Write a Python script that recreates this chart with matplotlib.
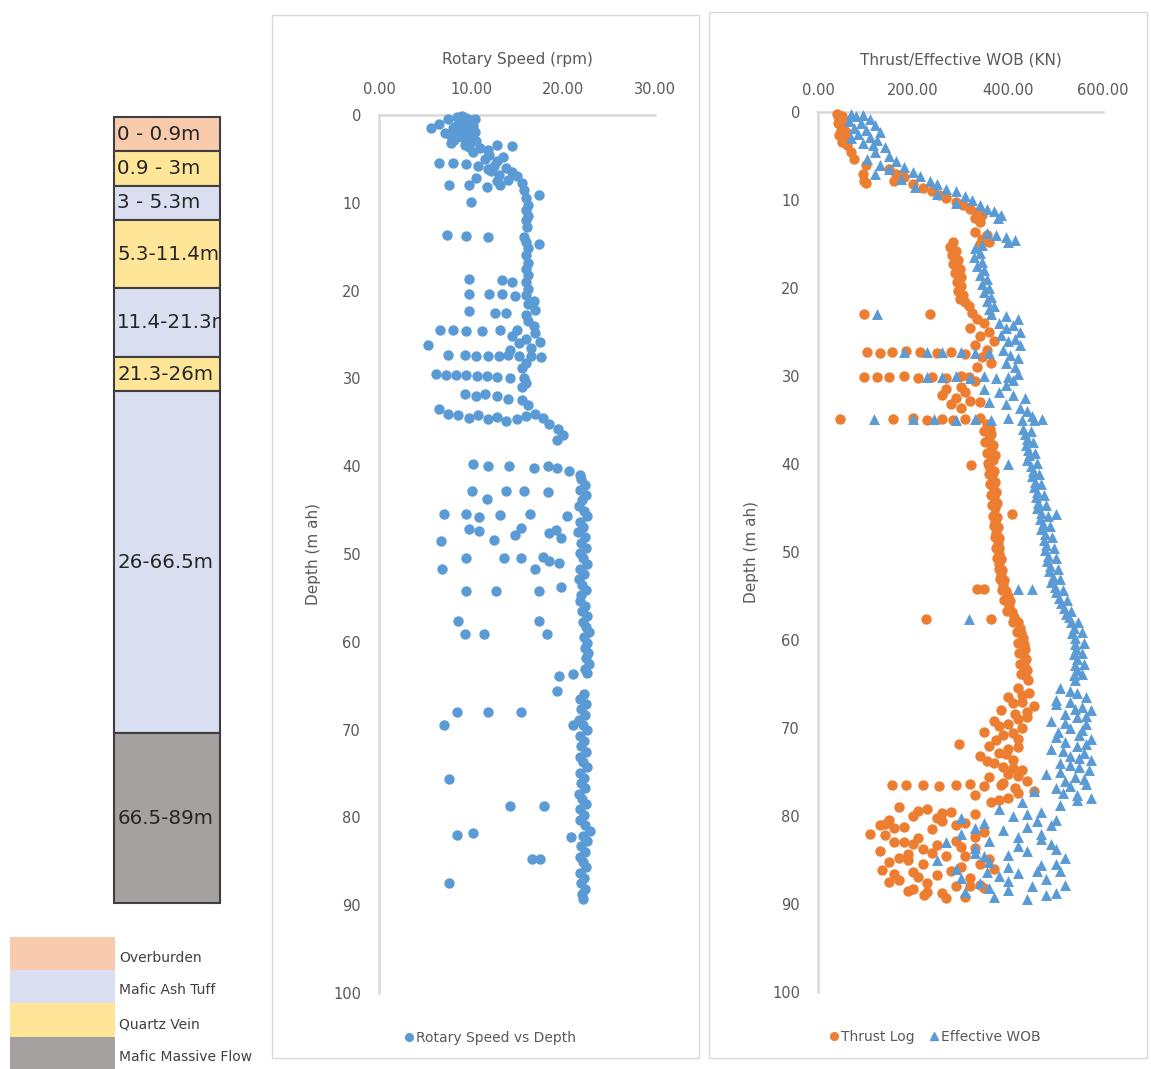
import matplotlib.pyplot as plt
from matplotlib.patches import Rectangle
from matplotlib.lines import Line2D

# rock column (schematic log)
layer_labels = ['0 - 0.9m', '0.9 - 3m', '3 - 5.3m', '5.3-11.4m',
                '11.4-21.3m', '21.3-26m', '26-66.5m', '66.5-89m']
layer_rock = ['Overburden', 'Quartz Vein', 'Mafic Ash Tuff', 'Quartz Vein',
              'Mafic Ash Tuff', 'Quartz Vein', 'Mafic Ash Tuff', 'Mafic Massive Flow']
rock_types = ['Overburden', 'Mafic Ash Tuff', 'Quartz Vein', 'Mafic Massive Flow']

# rotary speed log
rs_depth = [
    0.2, 0.3, 0.5, 0.6, 0.8, 1.0, 1.0, 1.2, 1.5, 1.5, 1.7, 2.0, 2.0, 2.2, 2.5, 2.8, 3.0, 3.2, 3.4, 3.4, 3.5, 3.8, 0.1, 0.4,
    0.7, 1.3, 1.9, 2.4, 2.7, 3.6, 4.0, 5.2, 6.4, 7.4,
    4.2, 4.5, 4.8, 5.0, 5.5, 5.5, 5.6, 5.8, 5.8, 6.0, 6.2, 6.5, 6.8, 7.0, 7.2, 7.5, 7.8, 8.0, 8.0, 8.2, 8.0, 8.5,
    9.1, 9.5, 9.9, 10.2, 10.8, 11.5, 12.0, 12.8, 13.7, 13.8, 13.9, 13.9, 14.7, 14.5, 15.2, 16.0, 16.8, 17.5, 18.2,
    18.7, 18.8, 19.0, 19.0, 19.8, 20.4, 20.4, 20.4, 20.6, 20.5, 21.2, 21.5, 22.3, 22.5, 22.5, 22.2, 22.8, 23.5, 24.0,
    24.5, 24.5, 24.6, 24.6, 24.5, 24.5, 24.8, 25.2, 25.5, 25.8, 26.0, 26.2, 26.5, 26.8, 27.3, 27.3, 27.4, 27.4, 27.4, 27.3, 27.5, 27.4, 27.6, 28.2, 28.8,
    29.5, 29.6, 29.6, 29.6, 29.7, 29.7, 29.8, 29.9, 30.0, 30.5, 31.0,
    31.8, 32.0, 31.8, 32.0, 32.3, 32.5, 33.0, 33.5, 34.0, 34.2, 34.5, 34.2, 34.6, 34.4, 34.8, 34.6, 34.3, 34.0, 34.5, 35.2, 35.8, 36.5, 37.0,
    39.8, 40.0, 40.0, 40.2, 40.0, 40.2, 40.5, 41.0,
    42.8, 42.8, 42.8, 42.9, 43.7, 45.5, 45.5, 45.8, 45.6, 45.5, 45.7, 47.2, 47.4, 47.0, 47.8, 48.5, 48.4, 47.6, 47.3, 48.2,
    50.5, 50.5, 50.5, 50.3, 50.8, 51.7, 51.0, 51.7, 54.2, 54.2, 54.2, 53.8, 57.6, 57.6, 59.1, 59.1, 59.1, 63.9, 63.7, 65.6,
    68.0, 68.0, 68.0, 69.5, 69.5, 75.6, 78.7, 78.7, 82.0, 81.8, 82.2, 84.7, 84.7, 87.5,
    41.5, 42.1, 42.7, 43.3, 43.9, 44.5, 45.1, 45.7, 46.3, 46.9, 47.5, 48.1, 48.7, 49.3, 49.9, 50.5, 51.1, 51.7, 52.3,
    52.9, 53.5, 54.1, 54.7, 55.3, 55.9, 56.5, 57.1, 57.7, 58.3, 58.9, 59.5, 60.1, 60.7, 61.3, 61.9, 62.5, 63.1, 63.5,
    65.9, 66.5, 67.1, 67.7, 68.3, 68.9, 69.5, 70.1, 70.7, 71.3, 71.9, 72.5, 73.1, 73.7, 74.3, 74.9, 75.5, 76.1, 76.7, 77.3,
    77.9, 78.5, 79.1, 79.7, 80.3, 80.9, 81.5, 82.1, 82.7, 83.3, 83.9, 84.5, 85.1, 85.7, 86.3, 86.9, 87.5, 88.1, 88.7, 89.3,
]
rs_rpm = [
    8.5, 9.5, 7.5, 10.0, 8.8, 6.5, 9.2, 10.2, 5.7, 8.0, 9.5, 7.2, 8.8, 10.0, 9.0, 8.2, 10.5, 7.8, 9.3, 12.8, 14.5, 11.0, 9.0, 10.4,
    9.8, 8.4, 10.4, 7.8, 9.6, 9.8, 11.8, 12.8, 12.2, 14.0,
    10.2, 12.0, 13.5, 11.5, 6.5, 8.0, 9.5, 10.8, 12.5, 13.8, 11.8, 14.5, 13.0, 15.0, 10.5, 12.8, 15.5, 7.6, 9.8, 11.7, 13.1, 15.8,
    17.4, 16.0, 10.0, 16.2, 16.0, 16.2, 16.0, 16.1, 7.4, 9.5, 11.8, 15.8, 17.4, 16.0, 16.2, 16.0, 16.2, 16.0, 16.2,
    9.8, 13.4, 14.5, 16.0, 16.2, 9.8, 12.0, 13.4, 14.8, 16.0, 16.8, 16.2, 9.8, 12.6, 13.8, 17.0, 16.0, 16.2, 16.8,
    6.6, 8.0, 9.5, 11.2, 13.2, 15.0, 17.0, 14.5, 16.0, 17.5, 15.2, 5.3, 16.5, 14.2, 7.5, 9.3, 10.5, 11.8, 13.0, 14.0, 15.2, 16.5, 17.6, 16.0, 15.5,
    6.2, 7.3, 8.4, 9.5, 10.6, 11.7, 12.8, 14.2, 15.8, 16.0, 15.5,
    9.3, 10.5, 11.5, 12.8, 14.0, 15.5, 16.2, 6.5, 7.5, 8.6, 9.8, 10.8, 11.8, 12.8, 13.8, 15.0, 16.0, 17.0, 17.8, 18.5, 19.5, 20.0, 19.3,
    10.2, 11.9, 14.1, 16.9, 18.4, 19.4, 20.7, 21.8,
    10.1, 13.8, 15.8, 18.4, 11.7, 7.1, 9.5, 10.9, 13.1, 16.4, 20.4, 9.8, 10.9, 15.4, 14.8, 6.7, 12.5, 18.5, 19.2, 19.8,
    9.5, 13.6, 15.4, 17.8, 18.5, 17.0, 19.6, 6.9, 9.5, 12.7, 17.4, 19.8, 8.6, 17.4, 9.3, 11.4, 18.3, 19.6, 21.1, 19.4,
    8.5, 11.8, 15.4, 7.1, 21.1, 7.6, 14.2, 17.9, 8.5, 10.2, 20.9, 16.6, 17.5, 7.6,
    22.0, 22.4, 21.8, 22.5, 22.1, 21.7, 22.3, 22.6, 21.9, 22.2, 21.6, 22.4, 22.0, 22.5, 21.8, 22.2, 22.6, 21.9, 22.3,
    21.7, 22.1, 22.5, 22.0, 21.8, 22.4, 22.1, 22.6, 22.2, 22.5, 22.8, 22.3, 22.6, 22.4, 22.7, 22.5, 22.8, 22.4, 22.6,
    22.3, 21.8, 22.5, 22.0, 22.4, 21.7, 22.2, 22.6, 21.9, 22.3, 22.0, 22.5, 21.8, 22.2, 22.6, 21.9, 22.3, 22.0, 22.4, 21.7,
    22.1, 22.5, 21.9, 22.3, 21.8, 22.4, 22.9, 22.2, 22.6, 22.0, 22.4, 21.8, 22.2, 22.5, 21.9, 22.3, 22.0, 22.4, 22.1, 22.2,
]

# thrust log (kN)
thr_depth = [
    0.2, 0.5, 0.8, 1.0, 1.3, 1.6, 2.0, 2.3, 2.6, 3.0, 3.4, 3.8, 4.5, 5.3, 6.0, 7.0, 7.8, 8.1,
    6.5, 7.0, 7.4, 7.8, 8.2, 8.6, 9.0, 9.4, 9.8, 10.2, 10.6, 11.0, 11.4, 11.7, 12.0, 12.5,
    13.6, 14.0, 14.4, 14.8, 15.0, 14.8, 15.3, 15.8, 16.3, 16.8, 17.3, 17.8, 18.3, 18.8, 19.3, 19.8, 20.3, 20.8, 21.3, 21.6, 22.0,
    23.0, 23.0, 22.8, 23.5, 24.0, 24.5, 25.0, 25.5, 26.0, 26.5, 27.0, 27.8, 28.5, 29.0, 27.3, 27.4, 27.3, 27.2, 27.3, 27.4, 27.3, 27.5,
    30.1, 30.1, 30.1, 30.0, 30.2, 30.1, 30.2, 30.0, 30.1, 30.6, 31.2, 31.5, 31.8, 32.2, 32.5, 32.8, 33.2, 33.6, 33.0,
    34.9, 34.9, 34.8, 35.0, 34.9, 35.0, 34.9, 34.8,
    35.5, 36.0, 36.6, 37.2, 37.8, 38.4, 39.0, 39.6, 40.1, 40.2, 40.8, 41.4, 42.0, 42.6, 43.2, 43.8, 44.4, 45.0, 45.7, 46.0,
    46.6, 47.2, 47.8, 48.4, 49.0, 49.6, 50.2, 50.8, 51.4, 52.0, 52.6, 53.2, 53.8, 54.2, 54.2, 54.4, 55.0, 55.6, 56.2, 56.8,
    57.6, 57.6, 57.4, 58.0, 58.6, 59.2, 59.8, 60.4, 61.0, 61.6, 62.2, 62.8, 63.4, 64.0, 64.6,
    36.3, 37.5, 38.7, 39.9, 41.1, 42.3, 43.5, 44.7, 45.9, 47.1, 48.3, 49.5,
    50.7, 51.9, 53.1, 54.3, 55.5, 56.7, 57.9, 59.1, 60.3, 61.5, 62.7, 63.9,
    65.5, 66.0, 66.5, 67.0, 67.5, 68.0, 68.4, 68.8, 69.2, 69.6, 70.0, 70.4, 70.8, 71.2, 71.8, 72.0, 72.4, 72.8, 73.2, 73.6,
    74.0, 74.4, 74.8, 75.2, 75.6, 76.0, 76.5, 76.5, 76.5, 76.6, 76.5, 76.4, 76.6, 76.5, 76.8, 77.2, 77.6, 78.0, 78.4,
    66.2, 67.2, 68.2, 69.0, 69.8, 70.6, 71.4, 72.2, 73.0, 73.8, 74.6, 75.4, 76.2, 77.4, 78.2,
    79.0, 79.2, 79.5, 79.8, 80.0, 80.4, 80.6, 80.8, 81.2, 81.5, 81.8, 82.0, 82.2, 82.5, 82.8, 83.0, 83.3, 83.6, 84.0, 84.3,
    84.6, 84.9, 85.2, 85.5, 85.8, 86.1, 86.4, 86.7, 87.0, 87.3, 87.6, 87.9, 88.2, 88.5, 88.8, 89.0, 89.2, 86.0, 83.8, 81.0,
    79.4, 80.2, 81.0, 81.4, 82.4, 83.2, 83.5, 84.2, 84.8, 85.4, 86.2, 86.9,
    87.5, 88.0, 88.6, 89.3, 80.9, 82.9, 84.5, 86.6, 88.3, 79.7, 85.0, 87.8,
]
thr_kn = [
    40, 50, 45, 55, 42, 52, 48, 58, 44, 55, 50, 60, 70, 75, 100, 94, 96, 100,
    150, 165, 180, 160, 200, 220, 240, 255, 270, 290, 305, 320, 335, 345, 330, 340,
    330, 355, 345, 360, 340, 285, 278, 290, 282, 295, 285, 298, 288, 300, 292, 302, 295, 305, 298, 310, 318,
    96, 235, 325, 335, 350, 320, 360, 340, 370, 330, 355, 345, 365, 335, 104, 130, 155, 185, 215, 250, 280, 310,
    96, 125, 150, 180, 210, 240, 270, 300, 317, 330, 300, 270, 310, 260, 290, 320, 280, 300, 340,
    47, 158, 200, 230, 260, 285, 310, 340,
    355, 362, 365, 360, 368, 365, 372, 368, 323, 360, 370, 366, 372, 368, 375, 370, 376, 372, 408, 376,
    372, 378, 375, 380, 378, 382, 380, 385, 382, 388, 386, 392, 390, 335, 350, 396, 400, 404, 402, 408,
    228, 364, 412, 420, 425, 428, 432, 434, 436, 432, 438, 434, 440, 436, 442,
    350, 352, 356, 358, 360, 362, 364, 366, 368, 370, 372, 374,
    376, 380, 384, 388, 392, 398, 410, 418, 422, 424, 426, 428,
    420, 445, 400, 430, 455, 385, 415, 440, 370, 400, 430, 350, 390, 420, 296, 360, 400, 380, 340, 410,
    370, 390, 430, 400, 360, 440, 155, 185, 220, 255, 290, 320, 350, 385, 415, 455, 330, 400, 365,
    430, 410, 440, 420, 380, 410, 375, 420, 395, 355, 410, 420, 390, 420, 380,
    170, 230, 280, 330, 200, 150, 260, 310, 180, 240, 350, 110, 140, 210, 290, 160, 250, 330, 130, 190,
    270, 360, 150, 220, 300, 135, 200, 250, 320, 170, 230, 290, 350, 190, 260, 223, 310, 370, 220, 130,
    210, 250, 290, 160, 330, 200, 300, 240, 170, 340, 280, 210,
    150, 320, 230, 270, 140, 180, 310, 160, 200, 260, 190, 340,
]

# effective weight on bit (kN)
wob_depth = [
    0.2, 0.3, 0.5, 0.8, 1.0, 1.2, 1.5, 1.8, 2.0, 2.3, 2.5, 2.8, 3.0, 3.2, 3.5, 3.8, 4.0,
    4.5, 5.0, 5.3, 5.6, 6.0, 6.2, 6.5, 6.8, 7.0, 7.3, 7.6, 7.8, 8.2, 8.5, 8.8, 9.0, 9.3, 9.6, 10.0, 10.3, 10.6, 11.0, 11.3, 11.7, 12.0,
    13.8, 14.0, 14.2, 14.5, 14.8, 15.1, 15.5, 16.0, 16.5, 17.0, 17.5, 18.0, 18.5, 19.0, 19.5, 20.0, 20.5, 21.0, 21.5, 22.0, 22.4,
    23.0, 23.0, 23.2, 23.5, 24.0, 24.2, 24.5, 25.0, 25.3, 25.8, 26.0, 26.5, 27.0, 27.3, 27.3, 27.3, 27.3, 27.4, 27.4, 27.6, 28.0, 28.5, 29.0,
    30.1, 30.1, 30.0, 30.2, 30.0, 30.2, 30.1, 29.8, 30.5, 31.0, 31.5, 31.8, 32.2, 32.5, 33.0, 33.2, 33.6, 34.0, 34.5,
    34.9, 34.9, 34.9, 35.0, 34.9, 35.0, 34.8, 35.0, 35.0, 34.9,
    36.0, 36.6, 37.2, 37.8, 38.4, 39.0, 39.6, 40.0, 40.2, 40.8, 41.4, 42.0, 42.6, 43.2, 43.8, 44.4, 45.0, 45.7, 45.6, 46.2,
    46.8, 47.4, 48.0, 48.6, 49.2, 49.8, 50.4, 51.0, 51.6, 52.2, 52.8, 53.4, 54.2, 54.2, 54.0, 54.6, 55.2, 55.8, 56.4, 57.0,
    57.6, 57.4, 58.0, 58.6, 59.2, 59.8, 60.4, 61.0, 61.6, 62.2, 62.8, 63.4, 64.0, 64.6,
    36.3, 37.5, 38.7, 39.9, 41.1, 42.3, 43.5, 44.7, 45.9, 47.1, 48.3, 49.5,
    50.7, 51.9, 53.1, 54.3, 55.5, 56.7, 57.9, 59.1, 60.3, 61.5, 62.7, 63.9,
    65.5, 66.0, 66.5, 67.0, 67.3, 67.6, 68.0, 68.4, 68.8, 69.2, 69.6, 70.0, 70.4, 70.8, 71.2, 71.6, 72.0,
    72.4, 72.8, 73.2, 73.6, 74.0, 74.4, 74.8, 75.2, 75.6, 76.0, 76.4, 76.8, 77.2, 77.6, 78.0, 78.4, 78.8,
    65.8, 66.8, 67.8, 68.6, 69.4, 70.2, 71.0, 71.8, 72.6, 73.4, 74.2, 75.0, 75.8, 76.6, 77.4, 78.2,
    79.2, 79.5, 80.0, 80.4, 80.8, 81.2, 81.6, 82.0, 82.0, 82.4, 82.8, 83.2, 83.6, 84.0, 84.4, 84.8, 85.2, 85.6,
    86.0, 86.2, 86.5, 86.8, 87.2, 87.6, 88.0, 88.4, 88.8, 89.2, 89.4, 85.0, 83.0, 87.0, 84.2, 88.6, 86.4, 80.2,
    79.8, 80.6, 81.4, 82.6, 83.4, 84.6, 85.4, 86.3, 87.4, 88.2, 89.0, 81.0, 83.8, 85.8, 87.8,
]
wob_kn = [
    70, 95, 80, 110, 65, 90, 120, 75, 100, 130, 85, 110, 70, 125, 95, 115, 140,
    120, 150, 104, 165, 130, 180, 150, 200, 120, 215, 175, 235, 250, 205, 270, 290, 250, 310, 325, 290, 340, 355, 370, 385, 378,
    355, 375, 395, 415, 400, 345, 330, 340, 328, 345, 335, 350, 340, 355, 345, 360, 350, 365, 355, 370, 360,
    125, 365, 395, 420, 380, 410, 395, 425, 385, 415, 400, 425, 390, 180, 230, 260, 300, 330, 360, 405, 420, 395, 415,
    230, 260, 290, 320, 350, 375, 400, 420, 410, 395, 350, 380, 410, 435, 360, 395, 425, 440, 450,
    118, 200, 245, 290, 330, 365, 400, 430, 455, 472,
    432, 435, 440, 438, 442, 445, 440, 400, 448, 452, 450, 456, 454, 460, 458, 464, 462, 500, 470, 468,
    474, 470, 478, 475, 480, 478, 485, 482, 488, 486, 494, 490, 421, 450, 498, 502, 508, 512, 518, 522,
    318, 528, 532, 538, 535, 542, 540, 544, 538, 545, 540, 546, 538, 542,
    448, 452, 456, 460, 466, 470, 475, 480, 484, 488, 492, 496,
    500, 505, 510, 516, 524, 532, 548, 555, 560, 556, 560, 555,
    510, 545, 565, 530, 500, 555, 575, 520, 545, 490, 565, 530, 505, 550, 575, 520, 545,
    490, 560, 530, 575, 510, 550, 570, 480, 540, 520, 565, 500, 455, 545, 575, 430, 510,
    530, 500, 540, 565, 520, 555, 500, 565, 515, 550, 530, 510, 560, 530, 515, 545,
    380, 470, 410, 500, 350, 440, 390, 470, 300, 420, 360, 490, 330, 440, 400, 520, 360, 470,
    290, 510, 420, 380, 480, 340, 450, 400, 500, 370, 440, 250, 270, 300, 330, 310, 355, 300,
    440, 460, 330, 470, 420, 350, 500, 460, 400, 360, 480, 490, 500, 400, 520,
]

depth_ticks = [0, 10, 20, 30, 40, 50, 60, 70, 80, 90, 100]
rpm_ticks = [0, 10, 20, 30]
kn_ticks = [0, 200, 400, 600]

rock_colors = {'Overburden': '#F8CBAD', 'Mafic Ash Tuff': '#D9DEF1',
               'Quartz Vein': '#FFE597', 'Mafic Massive Flow': '#A6A1A1'}
blue = '#5B9BD5'
orange = '#ED7D31'
grey_txt = '#595959'
frame = '#D9D9D9'

W, H = 1151, 1069
fig = plt.figure(figsize=(W / 100, H / 100), dpi=100)


def px_rect(x0, y0, x1, y1):
    return [x0 / W, 1 - y1 / H, (x1 - x0) / W, (y1 - y0) / H]


# chart frames
for x0, y0, x1, y1 in [(272, 15, 699, 1058), (709, 12, 1147, 1058)]:
    fig.add_artist(Rectangle((x0 / W, 1 - y1 / H), (x1 - x0) / W, (y1 - y0) / H,
                             transform=fig.transFigure, fill=False, ec=frame, lw=1))

# rock column, drawn in pixel units
box_edges = [117, 151, 186, 220, 288, 357, 391, 733, 903]
axc = fig.add_axes(px_rect(114, 117, 220, 903))
axc.set_xlim(0, 1)
axc.set_ylim(903, 117)
axc.axis('off')
for i, lab in enumerate(layer_labels):
    top, bot = box_edges[i], box_edges[i + 1]
    axc.add_patch(Rectangle((0, top), 1, bot - top, fc=rock_colors[layer_rock[i]],
                            ec='#3F3F3F', lw=1.5, clip_on=False))
    axc.text(0.03, (top + bot) / 2, lab, fontsize=14.3, color='#262626',
             ha='left', va='center', clip_on=True)

# rock key
axk = fig.add_axes(px_rect(0, 930, 280, 1069))
axk.set_xlim(0, 280)
axk.set_ylim(1069, 930)
axk.axis('off')
key_rows = [937, 970, 1003, 1037, 1069]
for i, rock in enumerate(rock_types):
    axk.add_patch(Rectangle((10, key_rows[i]), 105, key_rows[i + 1] - key_rows[i],
                            fc=rock_colors[rock], ec='none'))
    axk.text(119, (key_rows[i] + key_rows[i + 1]) / 2 + 4, rock, fontsize=10,
             color='#404040', ha='left', va='center')


def style_axis(ax, xticks, xfmt, xpad):
    for side in ['right', 'bottom']:
        ax.spines[side].set_visible(False)
    for side in ['top', 'left']:
        ax.spines[side].set_color(frame)
        ax.spines[side].set_linewidth(1.8)
    ax.xaxis.tick_top()
    ax.set_xticks(xticks)
    ax.set_xticklabels([xfmt.format(t) for t in xticks])
    ax.set_yticks(depth_ticks)
    ax.set_ylim(100, 0)
    ax.set_xlim(xticks[0], xticks[-1])
    ax.tick_params(axis='x', length=0, pad=xpad, labelsize=10.5, labelcolor=grey_txt)
    ax.tick_params(axis='y', length=0, pad=13, labelsize=10.5, labelcolor=grey_txt)


# rotary speed chart
ax1 = fig.add_axes(px_rect(379, 115, 655, 993))
ax1.scatter(rs_rpm, rs_depth, s=56, color=blue, lw=0, zorder=3, clip_on=False)
style_axis(ax1, rpm_ticks, '{:.2f}', 13)
ax1.text(0.5, 1.063, 'Rotary Speed (rpm)', transform=ax1.transAxes,
         ha='center', va='center', fontsize=11, color=grey_txt)
ax1.text(-0.239, 0.5, 'Depth (m ah)', transform=ax1.transAxes, rotation=90,
         ha='center', va='center', fontsize=11, color=grey_txt)
fig.legend(handles=[Line2D([], [], ls='', marker='o', ms=5.5, color=blue,
                           label='Rotary Speed vs Depth')],
           loc='center', bbox_to_anchor=(490 / W, 1 - 1038 / H), frameon=False,
           fontsize=10, labelcolor=grey_txt, handlelength=0.7, handletextpad=0.2)

# thrust / effective WOB chart
ax2 = fig.add_axes(px_rect(818, 112, 1103, 992))
ax2.scatter(thr_kn, thr_depth, s=56, color=orange, lw=0, zorder=3,
            clip_on=False, label='Thrust Log')
ax2.scatter(wob_kn, wob_depth, s=62, marker='^', color=blue, lw=0, zorder=4,
            clip_on=False, label='Effective WOB')
style_axis(ax2, kn_ticks, '{:.2f}', 10)
ax2.text(0.5, 1.059, 'Thrust/Effective WOB (KN)', transform=ax2.transAxes,
         ha='center', va='center', fontsize=11, color=grey_txt)
ax2.text(-0.232, 0.5, 'Depth (m ah)', transform=ax2.transAxes, rotation=90,
         ha='center', va='center', fontsize=11, color=grey_txt)
fig.legend(handles=[Line2D([], [], ls='', marker='o', ms=5.5, color=orange, label='Thrust Log'),
                    Line2D([], [], ls='', marker='^', ms=5.5, color=blue, label='Effective WOB')],
           loc='center', bbox_to_anchor=(935 / W, 1 - 1037 / H), ncol=2, frameon=False,
           fontsize=10, labelcolor=grey_txt, handlelength=0.7, handletextpad=0.2,
           columnspacing=1.0)

fig.savefig('out.png', dpi=100)
